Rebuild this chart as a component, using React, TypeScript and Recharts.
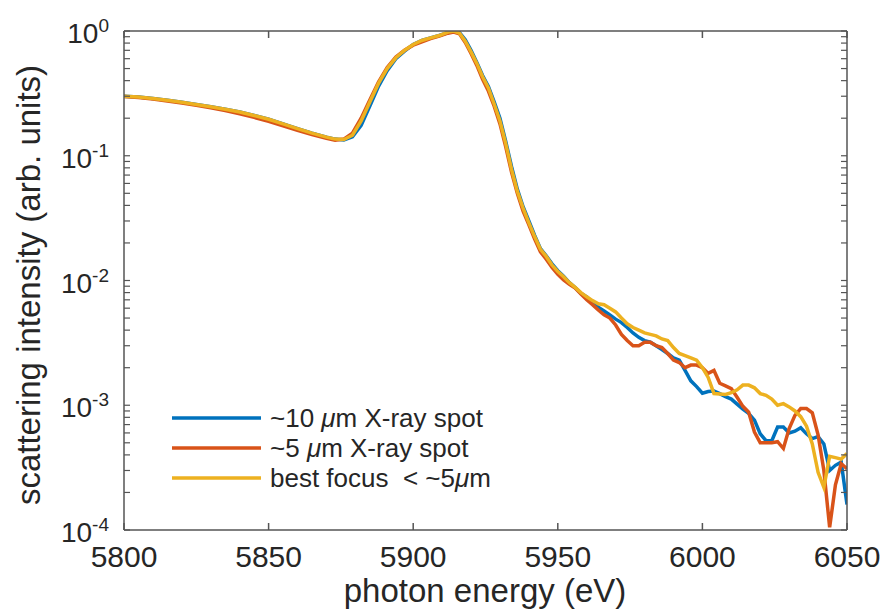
import React from "react";
import { LineChart, Line, XAxis, YAxis, Legend, Label } from "recharts";

// photon energy grid (eV): coarse over the edge, 2 eV steps in the noisy tail
const EDGE_ENERGY = [
  5800, 5805, 5810, 5815, 5820, 5825, 5830, 5835, 5840, 5845, 5850, 5855, 5860, 5865, 5870,
  5873, 5876, 5879, 5882, 5885, 5888, 5891, 5894, 5897, 5900, 5903, 5906, 5909, 5912,
  5914, 5916, 5918, 5920, 5922, 5924, 5926, 5928, 5930, 5932, 5934, 5936, 5938, 5940, 5942,
  5944, 5946, 5948, 5950, 5952, 5954,
];
const TAIL_ENERGY = [
  5956, 5958, 5960, 5962, 5964, 5966, 5968, 5970, 5972, 5974, 5976, 5978, 5980, 5982, 5984,
  5986, 5988, 5990, 5992, 5994, 5996, 5998, 6000, 6002, 6004, 6006, 6008, 6010, 6012, 6014,
  6016, 6018, 6020, 6022, 6024, 6026, 6028, 6030, 6032, 6034, 6036, 6038, 6040, 6042, 6044,
  6046, 6048, 6050,
];

const EDGE_SPOT_10UM = [
  0.3, 0.296, 0.288, 0.278, 0.268, 0.258, 0.247, 0.236, 0.224, 0.21, 0.196, 0.18, 0.165, 0.152, 0.141,
  0.136, 0.134, 0.142, 0.175, 0.25, 0.36, 0.48, 0.6, 0.69, 0.78, 0.84, 0.88, 0.92, 0.97,
  0.99, 0.97, 0.85, 0.7, 0.56, 0.44, 0.36, 0.27, 0.2, 0.13, 0.082, 0.054, 0.039, 0.03, 0.023,
  0.018, 0.0158, 0.0136, 0.012, 0.0108, 0.0096,
];
const TAIL_SPOT_10UM = [
  0.0088, 0.0079, 0.0074, 0.0067, 0.0061, 0.0057, 0.0053, 0.0049, 0.0046, 0.0042, 0.0038, 0.0035,
  0.0033, 0.0032, 0.003, 0.0028, 0.0026, 0.0024, 0.0023, 0.0019, 0.00157, 0.00141, 0.00125, 0.00129,
  0.0013, 0.00124, 0.00117, 0.00112, 0.00102, 0.00093, 0.00086, 0.00076, 0.00059, 0.00052, 0.00052,
  0.00067, 0.00067, 0.0006, 0.00062, 0.00066, 0.00059, 0.00054, 0.00056, 0.00049, 0.0003, 0.00033,
  0.00035, 0.00016,
];

const EDGE_SPOT_5UM = [
  0.298, 0.293, 0.285, 0.275, 0.265, 0.254, 0.242, 0.23, 0.217, 0.203, 0.189, 0.174, 0.16, 0.148, 0.138,
  0.133, 0.136, 0.152, 0.2, 0.28, 0.39, 0.51, 0.62, 0.7, 0.77, 0.82, 0.87, 0.91, 0.96,
  0.98, 0.95, 0.81, 0.66, 0.53, 0.41, 0.33, 0.25, 0.18, 0.118, 0.074, 0.05, 0.036, 0.028, 0.0215,
  0.017, 0.0148, 0.0127, 0.0112, 0.0101, 0.0093,
];
const TAIL_SPOT_5UM = [
  0.0087, 0.0078, 0.007, 0.0064, 0.0058, 0.0053, 0.005, 0.0044, 0.0037, 0.0033, 0.003, 0.003,
  0.0032, 0.0032, 0.003, 0.0029, 0.0026, 0.0023, 0.0022, 0.002, 0.0021, 0.0021, 0.002, 0.0018,
  0.0019, 0.0015, 0.00143, 0.00136, 0.00116, 0.00098, 0.00088, 0.00061, 0.0005, 0.0005, 0.0005,
  0.00051, 0.00045, 0.00065, 0.00083, 0.00094, 0.00094, 0.00087, 0.00058, 0.0003, 0.000105, 0.00023,
  0.00034, 0.00031,
];

const EDGE_BEST_FOCUS = [
  0.3, 0.296, 0.288, 0.278, 0.268, 0.258, 0.247, 0.236, 0.224, 0.21, 0.196, 0.18, 0.165, 0.152, 0.141,
  0.136, 0.135, 0.146, 0.19, 0.27, 0.38, 0.5, 0.61, 0.7, 0.78, 0.84, 0.88, 0.92, 0.98,
  1.0, 0.96, 0.83, 0.68, 0.55, 0.43, 0.35, 0.26, 0.19, 0.125, 0.078, 0.052, 0.038, 0.029, 0.0225,
  0.0178, 0.0156, 0.0133, 0.0118, 0.0107, 0.0096,
];
const TAIL_BEST_FOCUS = [
  0.0088, 0.008, 0.0074, 0.0069, 0.0065, 0.0064, 0.006, 0.0056, 0.005, 0.0045, 0.0042, 0.004,
  0.0038, 0.0037, 0.0036, 0.0034, 0.0033, 0.0029, 0.0026, 0.0025, 0.0024, 0.0023, 0.002, 0.00167,
  0.00124, 0.00123, 0.00122, 0.00126, 0.00133, 0.00145, 0.00145, 0.00138, 0.00124, 0.0012, 0.00112,
  0.001, 0.00103, 0.00097, 0.0009, 0.00081, 0.00068, 0.00049, 0.00029, 0.00022, 0.00039, 0.00038,
  0.00037, 0.00041,
];

const SERIES = [
  { key: "spot10", name: "~10 μm X-ray spot", color: "#0072BD", values: [...EDGE_SPOT_10UM, ...TAIL_SPOT_10UM] },
  { key: "spot5", name: "~5 μm X-ray spot", color: "#D95319", values: [...EDGE_SPOT_5UM, ...TAIL_SPOT_5UM] },
  { key: "best", name: "best focus  < ~5μm", color: "#EDB120", values: [...EDGE_BEST_FOCUS, ...TAIL_BEST_FOCUS] },
];

const X_TICKS = [5800, 5850, 5900, 5950, 6000, 6050];
const Y_DECADES = [1e-4, 1e-3, 1e-2, 1e-1, 1];
const Y_MINOR = Y_DECADES.slice(0, -1).flatMap((d) => [2, 3, 4, 5, 6, 7, 8, 9].map((m) => m * d));
const Y_ALL_TICKS = [...Y_DECADES, ...Y_MINOR].sort((a, b) => a - b);

const ENERGY = [...EDGE_ENERGY, ...TAIL_ENERGY];
const rows = ENERGY.map((energy, i) => {
  const row: Record<string, number> = { energy };
  SERIES.forEach((s) => {
    row[s.key] = s.values[i];
  });
  return row;
});

const FONT = '"Liberation Sans", Arial, Helvetica, sans-serif';
const AXIS = "#555555";
const INK = "#262626";
const PLOT_LEFT = 124;
const PLOT_BOTTOM = 530;

function XTick(props: any) {
  const { x, payload } = props;
  return (
    <text x={x} y={PLOT_BOTTOM + 37} textAnchor="middle" fontSize={30} fontFamily={FONT} fill={INK}>
      {payload.value}
    </text>
  );
}

function YTick(props: any) {
  const { y, payload } = props;
  const exp = Math.round(Math.log10(payload.value));
  return (
    <text x={PLOT_LEFT - 15} y={y + 12} textAnchor="end" fontSize={28} fontFamily={FONT} fill={INK}>
      <tspan>10</tspan>
      <tspan dy={-11} fontSize={19}>{exp}</tspan>
    </text>
  );
}

const NoTick = () => <g />;

function renderLegend() {
  return (
    <div style={{ fontFamily: FONT, color: INK }}>
      {SERIES.map((s) => {
        const parts = s.name.split("μ");
        return (
          <div key={s.key} style={{ display: "flex", alignItems: "center", height: 30 }}>
            <svg width={89} height={6} style={{ marginRight: 9 }}>
              <line x1={0} y1={3} x2={89} y2={3} stroke={s.color} strokeWidth={3.5} />
            </svg>
            <span style={{ fontSize: 26, whiteSpace: "pre", lineHeight: "30px" }}>
              {parts.map((p, i) => (
                <React.Fragment key={i}>
                  {i > 0 && <i>μ</i>}
                  {p}
                </React.Fragment>
              ))}
            </span>
          </div>
        );
      })}
    </div>
  );
}

export default function App() {
  return (
    <div style={{ position: "absolute", left: 0, top: 0, background: "#fff" }}>
      <LineChart width={884} height={611} data={rows} margin={{ top: 31, right: 37, bottom: 0, left: 0 }}>
        {/* inward tick marks and frame, declared first so they sit on the plot edges */}
        <XAxis
          xAxisId="bottomTicks"
          dataKey="energy"
          type="number"
          domain={[5800, 6050]}
          allowDataOverflow
          ticks={X_TICKS}
          interval={0}
          height={1}
          mirror
          tick={<NoTick />}
          tickSize={7}
          tickLine={{ stroke: AXIS, strokeWidth: 1.5 }}
          axisLine={{ stroke: AXIS, strokeWidth: 1.5 }}
        />
        <XAxis
          xAxisId="top"
          orientation="top"
          dataKey="energy"
          type="number"
          domain={[5800, 6050]}
          allowDataOverflow
          ticks={X_TICKS}
          interval={0}
          height={1}
          mirror
          tick={<NoTick />}
          tickSize={7}
          tickLine={{ stroke: AXIS, strokeWidth: 1.5 }}
          axisLine={{ stroke: AXIS, strokeWidth: 1.5 }}
        />
        <YAxis
          yAxisId="leftTicks"
          type="number"
          scale="log"
          domain={[1e-4, 1]}
          allowDataOverflow
          ticks={Y_ALL_TICKS}
          interval={0}
          width={1}
          mirror
          tick={<NoTick />}
          tickSize={6}
          tickLine={{ stroke: AXIS, strokeWidth: 1.2 }}
          axisLine={{ stroke: AXIS, strokeWidth: 1.5 }}
        />
        <YAxis
          yAxisId="right"
          orientation="right"
          type="number"
          scale="log"
          domain={[1e-4, 1]}
          allowDataOverflow
          ticks={Y_ALL_TICKS}
          interval={0}
          width={1}
          mirror
          tick={<NoTick />}
          tickSize={6}
          tickLine={{ stroke: AXIS, strokeWidth: 1.2 }}
          axisLine={{ stroke: AXIS, strokeWidth: 1.5 }}
        />
        {/* label axes */}
        <XAxis
          xAxisId="bottom"
          dataKey="energy"
          type="number"
          domain={[5800, 6050]}
          allowDataOverflow
          ticks={X_TICKS}
          interval={0}
          height={81}
          tickLine={false}
          axisLine={false}
          tick={<XTick />}
        >
          <Label
            content={() => (
              <text x={485} y={602} textAnchor="middle" fontSize={33} fontFamily={FONT} fill={INK}>
                photon energy (eV)
              </text>
            )}
          />
        </XAxis>
        <YAxis
          yAxisId="left"
          type="number"
          scale="log"
          domain={[1e-4, 1]}
          allowDataOverflow
          ticks={Y_DECADES}
          interval={0}
          width={124}
          tickLine={false}
          axisLine={false}
          tick={<YTick />}
        >
          <Label
            content={() => (
              <text
                x={40}
                y={285}
                transform="rotate(-90 40 285)"
                textAnchor="middle"
                fontSize={33}
                fontFamily={FONT}
                fill={INK}
              >
                scattering intensity (arb. units)
              </text>
            )}
          />
        </YAxis>
        <Legend
          layout="vertical"
          align="center"
          verticalAlign="middle"
          wrapperStyle={{ left: 172, top: 403, width: "auto", height: "auto" }}
          content={renderLegend}
        />
        {SERIES.map((s) => (
          <Line
            key={s.key}
            xAxisId="bottom"
            yAxisId="left"
            dataKey={s.key}
            name={s.name}
            stroke={s.color}
            strokeWidth={3.5}
            dot={false}
            type="linear"
            isAnimationActive={false}
          />
        ))}
      </LineChart>
    </div>
  );
}
